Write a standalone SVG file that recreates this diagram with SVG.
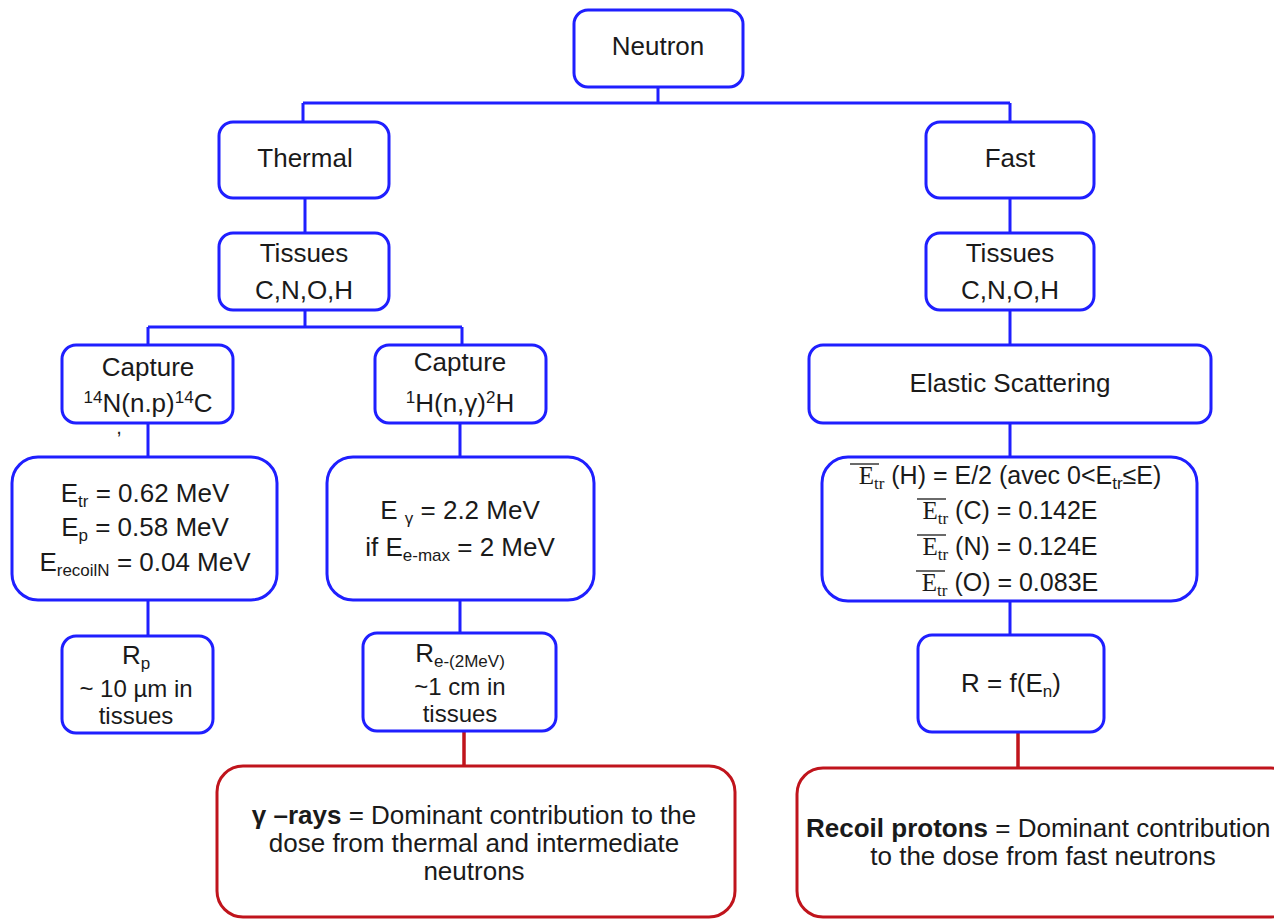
<svg xmlns="http://www.w3.org/2000/svg" width="1274" height="920" viewBox="0 0 1274 920">
<style>
.b{fill:#fff;stroke:#1f1fff;stroke-width:3}
.r{fill:#fff;stroke:#c0141c;stroke-width:3}
.c{fill:none;stroke:#1f1fff;stroke-width:3}
.cr{fill:none;stroke:#c0141c;stroke-width:3.5}
text{font-family:"Liberation Sans",Arial,sans-serif;font-size:26px;fill:#1a1a1a;text-anchor:middle}
.m{font-size:25px}
.n{font-size:24px}
.s{font-size:17px}
.tm{font-family:"Liberation Serif","Times New Roman",serif}
.ol{stroke:#1a1a1a;stroke-width:1.3}
</style>
<rect width="1274" height="920" fill="#fff"/>
<g id="connectors">
<path class="c" d="M658 87V103M303 103H1010M303 103V122M1010 103V122"/>
<path class="c" d="M305 198V233M1010 198V233"/>
<path class="c" d="M305 310V327M148 327H462M148 327V345M462 327V345"/>
<path class="c" d="M1010 310V345"/>
<path class="c" d="M148 423V457M460 423V457M1010 423V457"/>
<path class="c" d="M148 600V636M460 600V633M1010 601V635"/>
<path class="cr" d="M464 731V766M1018 732V768"/>
</g>
<g id="neutron"><rect class="b" x="574" y="10" width="169" height="77" rx="14"/><text x="658" y="55">Neutron</text></g>
<g id="thermal"><rect class="b" x="219" y="122" width="170" height="76" rx="14"/><text x="305" y="167">Thermal</text></g>
<g id="fast"><rect class="b" x="926" y="122" width="168" height="76" rx="14"/><text x="1010" y="167">Fast</text></g>
<g id="tissues-thermal"><rect class="b" x="219" y="233" width="170" height="77" rx="14"/><text x="304" y="262">Tissues</text><text x="304" y="299">C,N,O,H</text></g>
<g id="tissues-fast"><rect class="b" x="926" y="233" width="168" height="77" rx="14"/><text x="1010" y="262">Tissues</text><text x="1010" y="299">C,N,O,H</text></g>
<g id="capture-n"><rect class="b" x="62" y="345" width="171" height="78" rx="14"/><text x="148" y="376">Capture</text><text x="148" y="412"><tspan class="s" dy="-9">14</tspan><tspan dy="9">N(n.p)</tspan><tspan class="s" dy="-9">14</tspan><tspan dy="9">C</tspan></text><text x="119" y="434" style="font-size:20px">,</text></g>
<g id="capture-h"><rect class="b" x="375" y="345" width="171" height="78" rx="14"/><text x="460" y="371">Capture</text><text x="460" y="412"><tspan class="s" dy="-9">1</tspan><tspan dy="9">H(n,γ)</tspan><tspan class="s" dy="-9">2</tspan><tspan dy="9">H</tspan></text></g>
<g id="elastic"><rect class="b" x="809" y="345" width="402" height="78" rx="14"/><text x="1010" y="392">Elastic Scattering</text></g>
<g id="energy-n"><rect class="b" x="12" y="457" width="265" height="143" rx="26"/>
<text x="145" y="502">E<tspan class="s" dy="5">tr</tspan><tspan dy="-5"> = 0.62 MeV</tspan></text>
<text x="145" y="536">E<tspan class="s" dy="5">p</tspan><tspan dy="-5"> = 0.58 MeV</tspan></text>
<text x="145" y="571">E<tspan class="s" dy="5">recoilN</tspan><tspan dy="-5"> = 0.04 MeV</tspan></text></g>
<g id="energy-h"><rect class="b" x="327" y="457" width="267" height="143" rx="26"/>
<text x="460" y="519">E <tspan class="s" dy="5">γ</tspan><tspan dy="-5"> = 2.2 MeV</tspan></text>
<text x="460" y="556">if E<tspan class="s" dy="5">e-max</tspan><tspan dy="-5"> = 2 MeV</tspan></text></g>
<g id="energy-fast"><rect class="b" x="822" y="457" width="375" height="144" rx="26"/>
<text class="m" x="1010" y="484"><tspan class="tm">E</tspan><tspan class="s tm" dy="5">tr</tspan><tspan dy="-5"> (H) = E/2 (avec 0&lt;E</tspan><tspan class="s" dy="5">tr</tspan><tspan dy="-5">≤E)</tspan></text>
<line class="ol" x1="850" y1="464" x2="879" y2="464"/>
<text class="m" x="1010" y="519"><tspan class="tm">E</tspan><tspan class="s tm" dy="5">tr</tspan><tspan dy="-5"> (C) = 0.142E</tspan></text>
<line class="ol" x1="917" y1="499" x2="946" y2="499"/>
<text class="m" x="1010" y="555"><tspan class="tm">E</tspan><tspan class="s tm" dy="5">tr</tspan><tspan dy="-5"> (N) = 0.124E</tspan></text>
<line class="ol" x1="917" y1="535" x2="946" y2="535"/>
<text class="m" x="1010" y="591"><tspan class="tm">E</tspan><tspan class="s tm" dy="5">tr</tspan><tspan dy="-5"> (O) = 0.083E</tspan></text>
<line class="ol" x1="916" y1="571" x2="945" y2="571"/></g>
<g id="range-p"><rect class="b" x="62" y="636" width="151" height="97" rx="14"/>
<text x="136" y="664">R<tspan class="s" dy="5">p</tspan></text>
<text class="n" x="136" y="697">~ 10 µm in</text><text class="n" x="136" y="724">tissues</text></g>
<g id="range-e"><rect class="b" x="363" y="633" width="193" height="98" rx="14"/>
<text x="460" y="662">R<tspan class="s" dy="5">e-(2MeV)</tspan></text>
<text class="n" x="460" y="695">~1 cm in</text><text class="n" x="460" y="722">tissues</text></g>
<g id="range-fast"><rect class="b" x="918" y="635" width="186" height="97" rx="14"/>
<text x="1011" y="692">R = f(E<tspan class="s" dy="5">n</tspan><tspan dy="-5">)</tspan></text></g>
<g id="gamma"><rect class="r" x="217" y="766" width="518" height="151" rx="26"/>
<text x="474" y="824"><tspan style="font-weight:bold">γ –rays</tspan> = Dominant contribution to the</text>
<text x="474" y="852">dose from thermal and intermediate</text>
<text x="474" y="880">neutrons</text></g>
<g id="recoil"><rect class="r" x="797" y="768" width="500" height="149" rx="26"/>
<text x="806" y="837" style="text-anchor:start"><tspan style="font-weight:bold">Recoil protons</tspan> = Dominant contribution</text>
<text x="1043" y="865">to the dose from fast neutrons</text></g>
</svg>
